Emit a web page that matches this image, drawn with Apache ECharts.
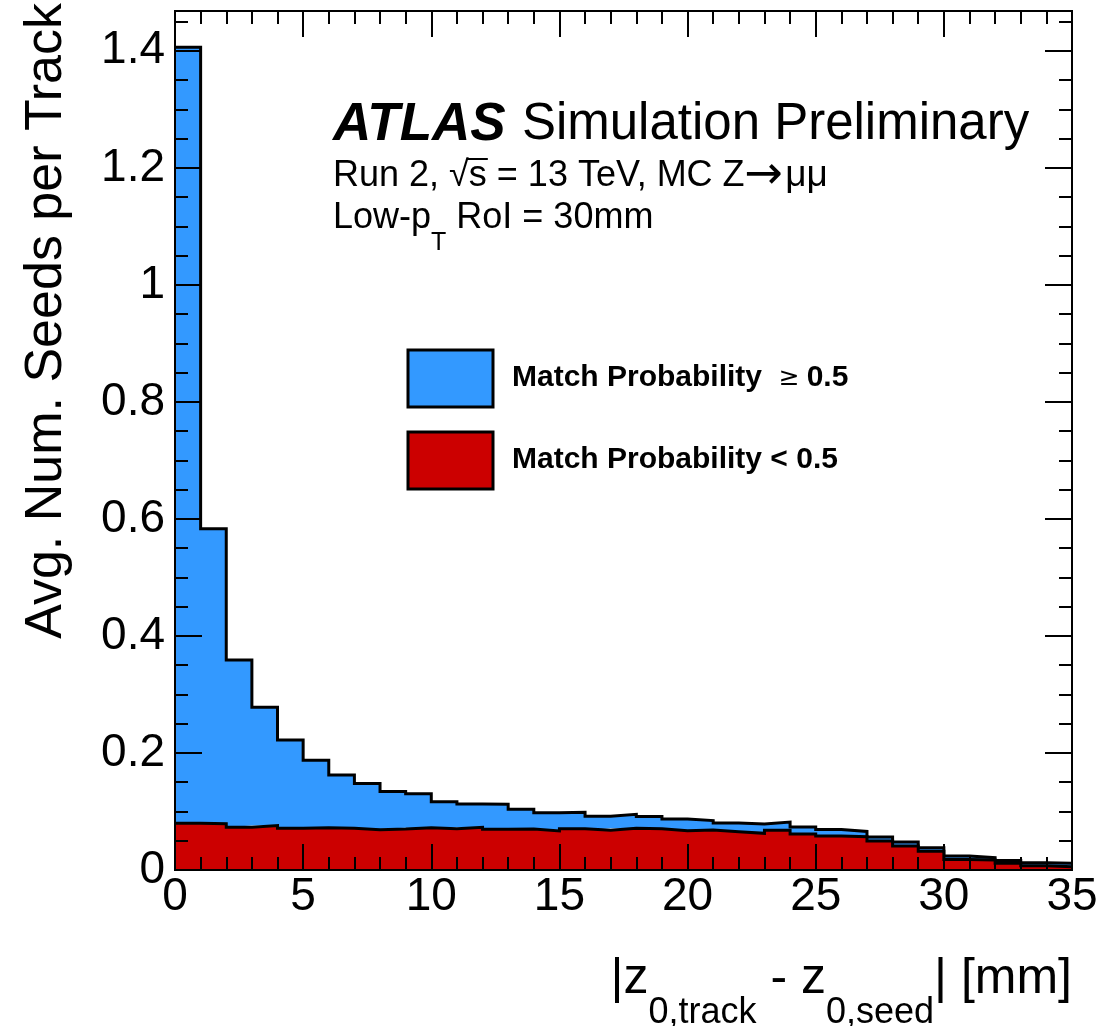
<!DOCTYPE html>
<html>
<head>
<meta charset="utf-8">
<script src="https://cdn.jsdelivr.net/npm/echarts@6.0.0/dist/echarts.min.js"></script>
<style>
html,body{margin:0;padding:0;background:#fff;}
#chart{width:1109px;height:1026px;}
</style>
</head>
<body>
<div id="chart"></div>
<script>
// ---- data (bin width 1 mm, 35 bins) ----
const binEdges = ['0','1','2','3','4','5','6','7','8','9','10','11','12','13','14','15','16','17','18','19','20','21','22','23','24','25','26','27','28','29','30','31','32','33','34','35'];
// Match Probability < 0.5 (bottom of stack), one value per bin
const matchLow = [0.080,0.079,0.073,0.076,0.0713,0.0724,0.0713,0.069,0.070,0.0724,
                  0.0706,0.073,0.0695,0.070,0.0667,0.0706,0.0678,0.0712,0.0706,0.0672,
                  0.0684,0.0655,0.0627,0.068,0.0615,0.058,0.057,0.0496,0.041,0.032,
                  0.018,0.017,0.0114,0.0074,0.0057];
// Match Probability >= 0.5 (stacked on top), one value per bin
const matchHigh = [1.326,0.504,0.286,0.202,0.151,0.115,0.091,0.079,0.064,0.058,
                   0.046,0.040,0.043,0.034,0.031,0.028,0.024,0.024,0.021,0.020,
                   0.016,0.015,0.016,0.014,0.012,0.011,0.009,0.007,0.007,0.006,
                   0.006,0.004,0.005,0.005,0.006];
const xMajorTicks = [0,5,10,15,20,25,30,35];
const yMajorTicks = [0,0.2,0.4,0.6,0.8,1,1.2,1.4];
const yMinorTicks = [0.05,0.1,0.15,0.25,0.3,0.35,0.45,0.5,0.55,0.65,0.7,0.75,0.85,0.9,0.95,1.05,1.1,1.15,1.25,1.3,1.35,1.45];
const yMax = 1.468;
const seriesNames = ['Match Probability < 0.5', 'Match Probability  \u2265 0.5'];

const FONT = '"Liberation Sans", Arial, Helvetica, sans-serif';
const SYMFONT = '"DejaVu Sans", sans-serif';

// histogram step points on the bin-edge category axis: bin i's value is held from edge i to edge i+1
function stepData(vals) {
  return binEdges.map((e, i) => vals[Math.min(i, vals.length - 1)]);
}
const isMajorX = (idx, val) => xMajorTicks.indexOf(Number(val)) >= 0;
const isMinorX = (idx, val) => xMajorTicks.indexOf(Number(val)) < 0;

function xAxisDef(pos, major, labels) {
  return {
    type: 'category', position: pos, data: binEdges, boundaryGap: false, z: 10,
    axisLine: { show: true, onZero: false, lineStyle: { color: '#000', width: 2 } },
    axisTick: { show: true, inside: true, length: major ? 26 : 13, interval: major ? isMajorX : isMinorX,
                lineStyle: { color: '#000', width: 2 } },
    axisLabel: labels ? { show: true, interval: isMajorX, margin: 4, color: '#000', fontSize: 46, fontFamily: FONT }
                      : { show: false },
    splitLine: { show: false }
  };
}
function yAxisDef(pos, ticks, len, labels) {
  return {
    type: 'value', position: pos, min: 0, max: yMax, z: 10,
    axisLine: { show: true, onZero: false, lineStyle: { color: '#000', width: 2 } },
    axisTick: { show: true, inside: true, length: len, customValues: ticks, lineStyle: { color: '#000', width: 2 } },
    axisLabel: labels ? { show: true, customValues: ticks, margin: 10, color: '#000', fontSize: 46, fontFamily: FONT,
      formatter: v => String(Math.round(v * 10) / 10) } : { show: false },
    splitLine: { show: false }
  };
}

// ---- text runs with sub/superscripts, laid out by measured widths ----
const mctx = document.createElement('canvas').getContext('2d');
function fontStr(s) {
  return (s.style || 'normal') + ' ' + (s.weight || 'normal') + ' ' + s.size + 'px ' + (s.family || FONT);
}
function textRun(x, y, segs, anchor) {
  const widths = segs.map(s => { mctx.font = fontStr(s); return mctx.measureText(s.text).width + (s.gap || 0); });
  const total = widths.reduce((a, b) => a + b, 0);
  let cx = anchor === 'right' ? x - total : x;
  const els = [];
  segs.forEach((s, i) => {
    s._x = cx; s._w = widths[i];
    els.push({ type: 'text', x: cx, y: y + (s.dy || 0), z: 20,
      style: { text: s.text, fontSize: s.size, fontFamily: s.family || FONT, fontWeight: s.weight || 'normal',
               fontStyle: s.style || 'normal', fill: '#000', align: 'left', verticalAlign: 'middle',
               textAlign: 'left', textVerticalAlign: 'middle' } });
    cx += widths[i];
  });
  return els;
}

const graphics = [];
// X axis title
graphics.push(...textRun(1072, 979, [
  { text: '|z', size: 50 },
  { text: '0,track', size: 36, dy: 34 },
  { text: ' - z', size: 50 },
  { text: '0,seed', size: 36, dy: 34 },
  { text: '| [mm]', size: 50 }
], 'right'));
// Y axis title
graphics.push({ type: 'text', x: 47, y: 3, rotation: Math.PI / 2, z: 20,
  style: { text: 'Avg. Num. Seeds per Track', fontSize: 52, fontFamily: FONT, fill: '#000',
           align: 'right', verticalAlign: 'middle', textAlign: 'right', textVerticalAlign: 'middle' } });
// ATLAS label
graphics.push(...textRun(333, 125, [
  { text: 'ATLAS', size: 53, weight: 'bold', style: 'italic', gap: 2 },
  { text: ' Simulation Preliminary', size: 51 }
], 'left'));
const runSegs = [
  { text: 'Run 2, ', size: 36 },
  { text: '\u221A', size: 36 },
  { text: 's', size: 36 },
  { text: ' = 13 TeV, MC Z', size: 36 },
  { text: '\u2192', size: 46, family: SYMFONT, gap: 2 },
  { text: '\u03bc\u03bc', size: 37 }
];
graphics.push(...textRun(333, 176, runSegs, 'left'));
// overbar of the square root
graphics.push({ type: 'line', z: 20, shape: { x1: runSegs[1]._x + runSegs[1]._w - 2, y1: 159, x2: runSegs[2]._x + runSegs[2]._w + 1, y2: 159 },
  style: { stroke: '#000', lineWidth: 2 } });
graphics.push(...textRun(333, 218, [
  { text: 'Low-p', size: 36 },
  { text: 'T', size: 25, dy: 25 },
  { text: ' RoI = 30mm', size: 36 }
], 'left'));
// legend
graphics.push({ type: 'rect', z: 20, shape: { x: 408, y: 350, width: 85, height: 57 },
  style: { fill: '#3399ff', stroke: '#000', lineWidth: 3 } });
graphics.push({ type: 'rect', z: 20, shape: { x: 408, y: 432, width: 85, height: 57 },
  style: { fill: '#cc0000', stroke: '#000', lineWidth: 3 } });
graphics.push(...textRun(512, 378, [
  { text: 'Match Probability  ', size: 30, weight: 'bold' },
  { text: '\u2265', size: 25, family: SYMFONT, gap: 7 },
  { text: '0.5', size: 30, weight: 'bold' }
], 'left'));
graphics.push(...textRun(512, 460, [
  { text: seriesNames[0], size: 30, weight: 'bold' }
], 'left'));

const chart = echarts.init(document.getElementById('chart'), null, { renderer: 'canvas' });
chart.setOption({
  animation: false,
  backgroundColor: '#fff',
  grid: { left: 175, right: 37, top: 11, bottom: 156, containLabel: false },
  xAxis: [
    xAxisDef('bottom', true, true),
    xAxisDef('bottom', false, false),
    xAxisDef('top', true, false),
    xAxisDef('top', false, false)
  ],
  yAxis: [
    yAxisDef('left', yMajorTicks, 27, true),
    yAxisDef('left', yMinorTicks, 13, false),
    yAxisDef('right', yMajorTicks, 27, false),
    yAxisDef('right', yMinorTicks, 13, false)
  ],
  series: [
    {
      name: seriesNames[0], type: 'line', step: 'end', stack: 'total',
      xAxisIndex: 0, yAxisIndex: 0, data: stepData(matchLow),
      symbol: 'none', silent: true, z: 3,
      lineStyle: { color: '#000', width: 3, join: 'miter' },
      itemStyle: { color: '#cc0000' },
      areaStyle: { color: '#cc0000', opacity: 1 }
    },
    {
      name: seriesNames[1], type: 'line', step: 'end', stack: 'total',
      xAxisIndex: 0, yAxisIndex: 0, data: stepData(matchHigh),
      symbol: 'none', silent: true, z: 2,
      lineStyle: { color: '#000', width: 3, join: 'miter' },
      itemStyle: { color: '#3399ff' },
      areaStyle: { color: '#3399ff', opacity: 1 }
    }
  ],
  graphic: graphics
});
</script>
</body>
</html>
